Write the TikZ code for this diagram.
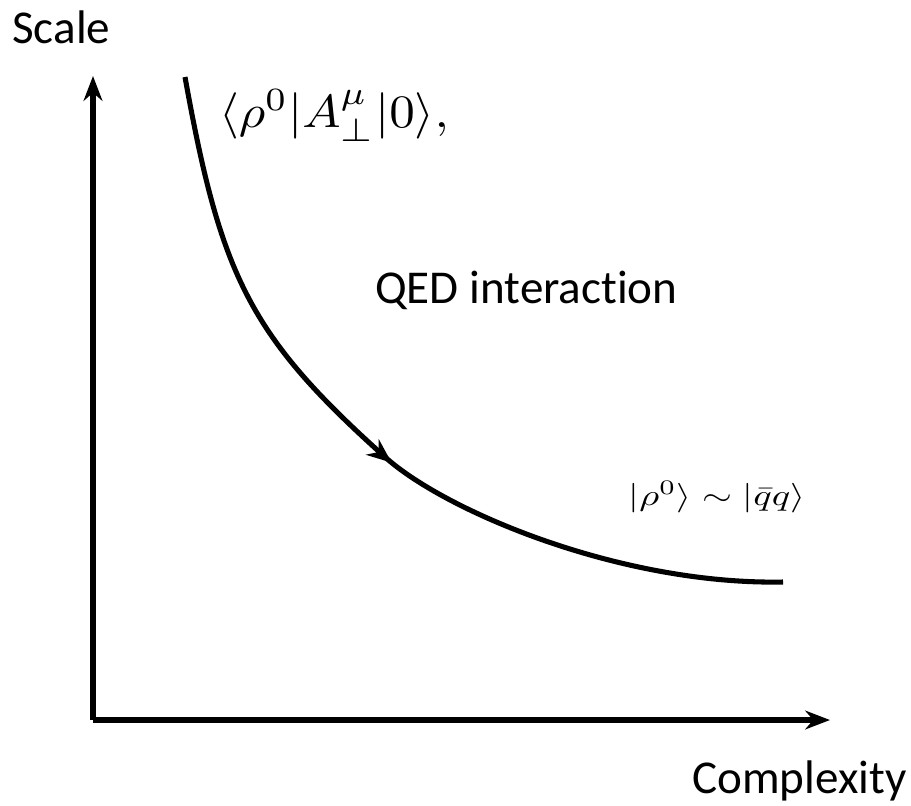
\documentclass[tikz,border=0pt]{standalone}
\usepackage{fontspec}
\setsansfont{Carlito}[Ligatures={NoCommon,NoContextual}]
\usetikzlibrary{arrows.meta,decorations.markings}

\tikzset{
  axis/.style={line width=4.4pt,line join=miter,-{Stealth[length=0.62cm,width=0.47cm]}},
  flow/.style={line width=3.6pt,postaction={decorate},
    decoration={markings,mark=at position 0.52 with {\arrow{Stealth[length=0.62cm,width=0.5cm]}}}},
  word/.style={inner sep=0pt,anchor=base west,font=\sffamily\fontsize{33.5}{40}\selectfont},
  bigmath/.style={inner sep=0pt,anchor=base west,scale=3.3,xscale=1.1,transform shape},
  smallmath/.style={inner sep=0pt,anchor=base west,scale=2.1,xscale=1.3,transform shape}
}

\begin{document}
\begin{tikzpicture}[x=0.025cm,y=-0.025cm]
\useasboundingbox (0,0) rectangle (911,805);
% axes
\coordinate (origin) at (93,720);
\coordinate (ytip) at (93,76);
\coordinate (xtip) at (830,720);
\draw[axis] (origin) -- (ytip);
\draw[axis] (origin) -- (xtip);
\node[word] (scale) at (12,43) {Scale};
\node[word] (complexity) at (692,793) {Complexity};
% flow curve, arrow half way
\coordinate (top) at (185,77);
\coordinate (turn) at (385,457);
\coordinate (bottom) at (783,582);
\draw[flow] (top) .. controls (221,277) and (250,336) .. (turn)
  .. controls (445,511) and (620,585) .. (bottom);
\node[bigmath] (amp) at (218,127) {$\langle\rho^0|A_\perp^\mu|0\rangle,$};
\node[word] (qed) at (375,303) {QED interaction};
\node[smallmath] (state) at (628,505) {$|\rho^0\rangle\sim|\bar q q\rangle$};
\end{tikzpicture}
\end{document}
